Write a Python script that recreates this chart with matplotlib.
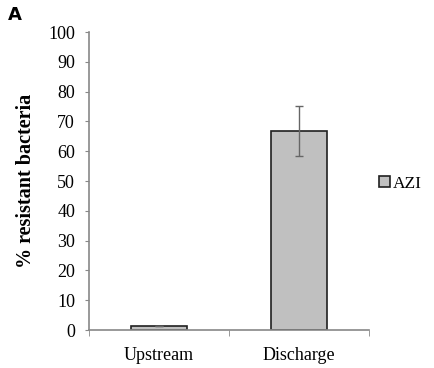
import matplotlib.pyplot as plt

sites = ['Upstream', 'Discharge']
azi = [1.4, 66.8]
azi_err = [0.0, 8.5]

plt.rcParams['font.family'] = ['Liberation Serif']

fig = plt.figure(figsize=(4.34, 3.68), dpi=100)
ax = fig.add_axes([0.205, 0.103, 0.645, 0.81])

x = range(len(sites))
ax.bar(x, azi, width=0.4, color='#c0c0c0', edgecolor='#202020', linewidth=1.2, label='AZI')
ax.errorbar(x, azi, yerr=azi_err, fmt='none', ecolor='#666666', elinewidth=1, capsize=3, capthick=1)

ax.set_xlim(-0.5, 1.5)
ax.set_ylim(0, 100)
ax.set_yticks(range(0, 101, 10))
ax.set_xticks(list(x))
ax.set_xticklabels(sites)
ax.set_xticks([-0.5, 0.5, 1.5], minor=True)
ax.tick_params(axis='x', which='major', length=0, labelsize=13, pad=12)
ax.tick_params(axis='x', which='minor', length=4, color='#888888')
ax.tick_params(axis='y', length=3, color='#888888', labelsize=13, pad=7)

for s in ['top', 'right']:
    ax.spines[s].set_visible(False)
for s in ['left', 'bottom']:
    ax.spines[s].set_color('#888888')
    ax.spines[s].set_linewidth(1.2)

ax.set_ylabel('% resistant bacteria', fontsize=14.5, fontweight='bold', labelpad=9)

ax.legend(loc='center left', bbox_to_anchor=(1.0, 0.49), frameon=False, fontsize=12.5,
          handlelength=0.6, handleheight=0.6, handletextpad=0.2, borderaxespad=0.2)

fig.text(0.018, 0.945, 'A', family='DejaVu Sans', fontweight='bold', fontsize=13)

fig.savefig('out.png')
